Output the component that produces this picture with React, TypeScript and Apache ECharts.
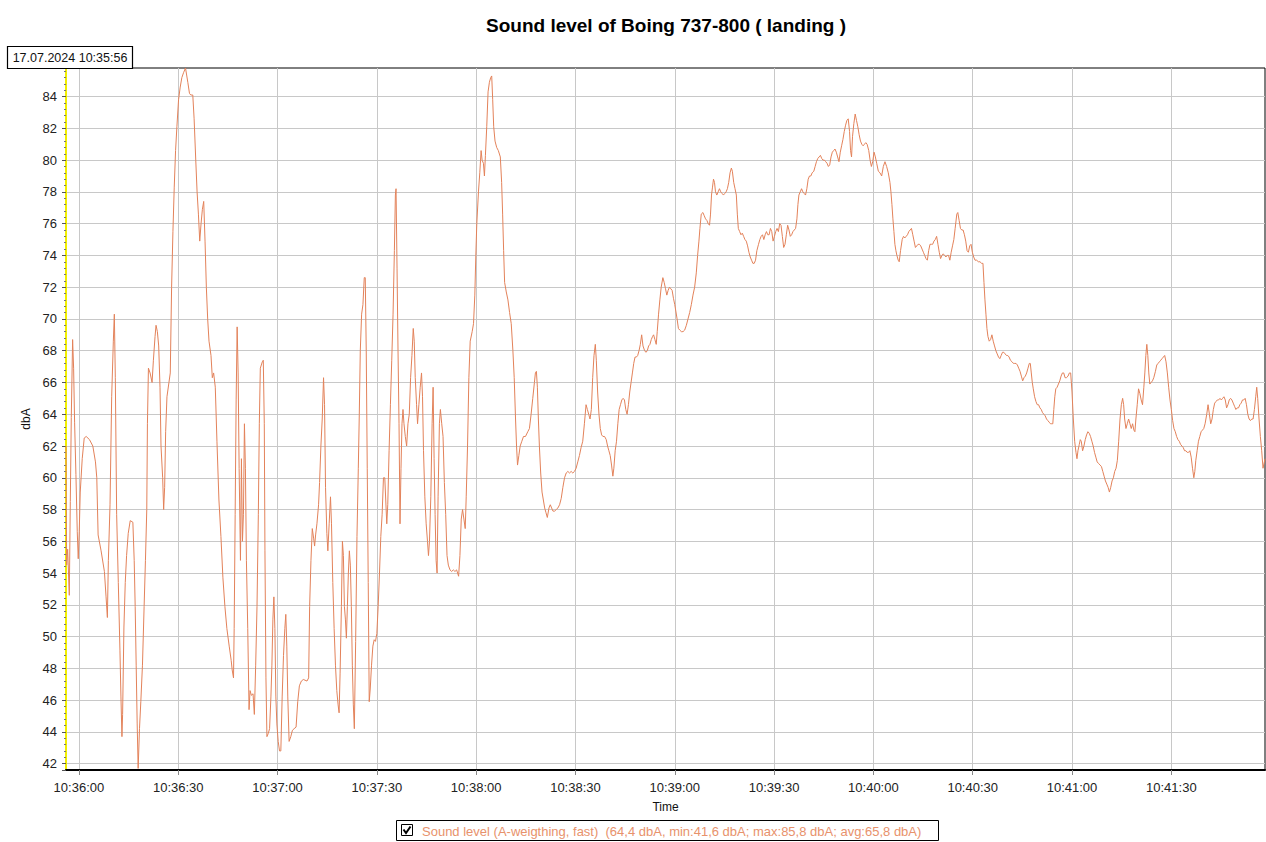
import React, { useEffect, useRef } from "react";
import * as echarts from "echarts";

const chartTitle = "Sound level of Boing 737-800 ( landing )";
const startStamp = "17.07.2024 10:35:56";
const seriesName = "Sound level (A-weigthing, fast)";
const legendStats = "(64,4 dbA, min:41,6 dbA; max:85,8 dbA; avg:65,8 dbA)";
const yAxisName = "dbA";
const xAxisName = "Time";
const baseClockSec = 10 * 3600 + 36 * 60; // 10:36:00 = 0 s
const xMinSec = -3.9;
const xMaxSec = 358.3;
const yMinDb = 41.6;
const yMaxDb = 85.8;
const xStepSec = 30;
const yStepDb = 2;

// seconds relative to 10:36:00
const timeSec = [
  -3.9, -3.7, -3.4, -2.9, -2.6, -2.3, -1.9, -1.6, -1.3, -0.9, -0.5, -0.2, 0.1, 0.4, 1.0, 1.6, 2.2, 3.2, 4.2, 5.0,
  5.4, 5.8, 6.7, 7.7, 8.2, 8.6, 8.9, 9.4, 9.9, 10.4, 10.7, 11.0, 11.4, 11.9, 12.4, 12.7, 13.0, 13.2, 13.6, 14.0,
  14.4, 14.9, 15.5, 16.3, 16.7, 17.0, 17.3, 17.6, 17.9, 18.3, 18.7, 19.2, 19.7, 20.1, 20.5, 20.7, 21.0, 21.5, 22.1, 22.5,
  23.0, 23.3, 23.7, 24.1, 24.5, 24.8, 25.3, 25.6, 25.9, 26.2, 26.6, 27.2, 27.6, 28.0, 28.4, 28.8, 29.2, 29.6, 30.1, 30.6,
  31.1, 31.6, 32.2, 32.9, 33.4, 33.8, 34.4, 34.8, 35.3, 35.7, 36.1, 36.5, 36.9, 37.3, 37.7, 38.1, 38.5, 38.9, 39.3, 39.9,
  40.3, 40.7, 41.2, 41.7, 42.3, 42.9, 43.5, 44.1, 44.7, 45.4, 46.0, 46.3, 46.7, 46.9, 47.2, 47.5, 47.8, 48.1, 48.4, 48.8,
  49.1, 49.4, 49.7, 50.0, 50.3, 50.6, 51.0, 51.4, 51.7, 52.1, 52.6, 53.0, 53.4, 53.8, 54.2, 54.5, 54.8, 55.4, 55.7, 56.0,
  56.2, 56.5, 56.8, 57.2, 57.6, 58.0, 58.3, 58.6, 58.9, 59.2, 59.5, 59.8, 60.2, 60.6, 61.0, 61.4, 61.8, 62.2, 62.5, 62.8,
  63.1, 63.5, 64.0, 64.5, 65.0, 65.6, 66.1, 66.6, 67.2, 67.8, 68.9, 69.4, 69.7, 70.1, 70.5, 70.9, 71.2, 71.5, 71.9, 72.4,
  72.7, 73.1, 73.5, 73.9, 74.2, 74.5, 74.9, 75.2, 75.6, 76.0, 76.3, 76.7, 77.1, 77.5, 77.9, 78.3, 78.6, 78.9, 79.3, 79.6,
  79.9, 80.2, 80.5, 80.8, 81.1, 81.4, 81.7, 82.0, 82.3, 82.6, 82.9, 83.2, 83.6, 84.0, 84.4, 84.7, 85.0, 85.4, 85.8, 86.2,
  86.5, 86.8, 87.1, 87.4, 87.7, 88.0, 88.4, 88.8, 89.2, 89.6, 90.0, 90.4, 90.8, 91.2, 91.6, 92.0, 92.4, 93.0, 93.3, 93.7,
  94.1, 94.5, 94.9, 95.3, 95.6, 95.8, 96.1, 96.4, 96.7, 97.0, 97.3, 97.6, 97.9, 98.2, 98.6, 99.0, 99.4, 99.8, 100.2, 100.6,
  101.0, 101.3, 101.6, 102.0, 102.3, 102.7, 103.1, 103.5, 103.8, 104.1, 104.5, 104.9, 105.3, 105.6, 105.9, 106.3, 106.7, 107.0, 107.3, 107.6,
  107.9, 108.2, 108.5, 108.9, 109.2, 109.6, 110.0, 110.4, 110.8, 111.2, 111.6, 112.1, 112.6, 113.1, 113.6, 114.1, 114.7, 115.1, 115.5, 115.9,
  116.3, 116.7, 117.0, 117.4, 117.8, 118.2, 118.8, 119.2, 119.6, 119.9, 120.2, 120.7, 121.1, 121.5, 121.8, 122.2, 122.5, 122.8, 123.2, 123.6,
  124.0, 124.4, 124.7, 125.0, 125.3, 125.7, 126.2, 126.7, 127.3, 127.7, 128.0, 128.3, 128.6, 129.1, 129.6, 130.1, 130.6, 131.1, 131.5, 131.9,
  132.2, 132.5, 132.9, 133.3, 133.8, 134.3, 134.9, 135.6, 136.1, 136.6, 137.1, 137.6, 137.9, 138.2, 138.5, 138.8, 139.1, 139.5, 139.9, 140.3,
  140.7, 141.1, 141.5, 142.0, 142.4, 142.8, 143.2, 143.7, 144.2, 144.7, 145.2, 145.7, 146.2, 146.7, 147.2, 147.7, 148.2, 148.7, 149.2, 149.7,
  150.2, 150.7, 151.2, 151.7, 152.2, 152.7, 153.2, 153.6, 154.0, 154.4, 154.8, 155.2, 155.6, 156.0, 156.3, 156.7, 157.1, 157.5, 157.9, 158.3,
  158.8, 159.3, 159.7, 160.1, 160.5, 160.9, 161.3, 161.6, 162.0, 162.4, 162.8, 163.2, 163.6, 164.0, 164.4, 164.8, 165.2, 165.6, 166.0, 166.4,
  166.8, 167.2, 167.6, 168.0, 168.4, 168.8, 169.2, 169.6, 170.0, 170.4, 170.9, 171.3, 171.7, 172.1, 172.5, 172.9, 173.3, 173.6, 174.0, 174.4,
  174.7, 175.1, 175.5, 175.9, 176.4, 176.8, 177.2, 177.6, 178.0, 178.4, 178.8, 179.2, 179.6, 180.0, 180.7, 181.1, 181.5, 182.0, 182.5, 183.0,
  183.5, 184.0, 184.5, 185.0, 185.5, 186.0, 186.5, 186.9, 187.3, 187.6, 188.0, 188.5, 188.9, 189.3, 189.7, 190.1, 190.5, 190.8, 191.1, 191.4,
  191.7, 192.0, 192.3, 192.7, 193.1, 193.5, 193.9, 194.3, 194.7, 195.1, 195.5, 195.9, 196.3, 196.7, 197.1, 197.4, 197.8, 198.2, 198.6, 198.9,
  199.2, 199.6, 200.0, 200.4, 200.8, 201.2, 201.6, 202.0, 202.4, 202.8, 203.2, 203.6, 204.0, 204.4, 204.8, 205.3, 205.7, 206.1, 206.5, 206.9,
  207.3, 207.7, 208.1, 208.5, 208.9, 209.3, 209.7, 210.1, 210.5, 210.9, 211.3, 211.7, 212.1, 212.5, 212.9, 213.3, 213.7, 214.1, 214.5, 214.9,
  215.3, 215.7, 216.1, 216.5, 216.9, 217.2, 217.5, 217.9, 218.3, 218.7, 219.1, 219.5, 219.9, 220.3, 220.7, 221.1, 221.5, 222.0, 222.4, 222.8,
  223.2, 223.6, 224.0, 224.4, 224.8, 225.2, 225.6, 226.0, 226.4, 226.8, 227.2, 227.6, 228.0, 228.4, 228.8, 229.2, 229.6, 230.0, 230.4, 230.8,
  231.2, 231.6, 232.0, 232.4, 232.8, 233.1, 233.4, 233.7, 234.1, 234.5, 234.9, 235.3, 235.7, 236.1, 236.5, 236.9, 237.3, 237.7, 238.1, 238.6,
  239.0, 239.4, 239.8, 240.2, 240.6, 241.0, 241.5, 242.0, 242.5, 243.0, 243.5, 244.0, 244.5, 245.0, 245.3, 245.6, 245.9, 246.2, 246.5, 246.8,
  247.1, 247.5, 247.8, 248.2, 248.7, 249.1, 249.5, 249.9, 250.3, 250.7, 251.1, 251.5, 251.9, 252.3, 252.7, 253.1, 253.5, 253.9, 254.3, 254.7,
  255.1, 255.5, 255.9, 256.3, 256.7, 257.1, 257.5, 257.9, 258.3, 258.7, 259.1, 259.5, 259.9, 260.3, 260.7, 261.1, 261.5, 261.9, 262.3, 262.7,
  263.1, 263.5, 263.9, 264.3, 264.7, 265.2, 265.5, 265.9, 266.3, 266.7, 267.1, 267.5, 267.9, 268.3, 268.7, 269.1, 269.5, 269.9, 270.3, 270.7,
  271.2, 271.7, 272.2, 272.7, 273.1, 273.4, 273.7, 274.0, 274.3, 274.6, 275.0, 275.4, 275.8, 276.2, 276.6, 277.0, 277.4, 277.8, 278.2, 278.6,
  279.0, 279.4, 279.8, 280.2, 280.6, 281.0, 281.4, 281.9, 282.3, 282.7, 283.1, 283.5, 283.9, 284.3, 284.7, 285.1, 285.5, 285.9, 286.3, 286.7,
  287.1, 287.4, 287.7, 288.0, 288.3, 288.7, 289.1, 289.5, 289.9, 290.3, 290.7, 291.1, 291.5, 291.9, 292.3, 292.7, 293.1, 293.5, 293.9, 294.2,
  294.5, 294.8, 295.1, 295.5, 295.9, 296.3, 296.7, 297.1, 297.5, 297.9, 298.3, 298.8, 299.2, 299.6, 300.0, 300.4, 300.8, 301.2, 301.5, 301.8,
  302.2, 302.5, 302.8, 303.2, 303.6, 304.0, 304.4, 304.8, 305.2, 305.6, 306.0, 306.4, 306.8, 307.2, 307.6, 308.0, 308.5, 308.9, 309.3, 309.7,
  310.1, 310.5, 310.9, 311.3, 311.7, 312.1, 312.5, 312.9, 313.3, 313.7, 314.1, 314.5, 314.9, 315.3, 315.6, 315.9, 316.3, 316.7, 317.1, 317.5,
  317.9, 318.3, 318.7, 319.0, 319.3, 319.7, 320.1, 320.5, 320.9, 321.3, 321.7, 322.0, 322.3, 322.6, 322.9, 323.2, 323.5, 323.9, 324.3, 324.7,
  325.2, 325.6, 326.0, 326.4, 326.8, 327.2, 327.6, 328.0, 328.4, 328.8, 329.2, 329.6, 330.0, 330.4, 330.8, 331.2, 331.6, 332.0, 332.4, 332.8,
  333.2, 333.6, 334.0, 334.4, 334.8, 335.2, 335.6, 336.0, 336.4, 336.8, 337.1, 337.4, 337.8, 338.2, 338.6, 339.0, 339.4, 339.8, 340.2, 340.7,
  341.1, 341.5, 341.9, 342.3, 342.7, 343.1, 343.5, 343.9, 344.3, 344.7, 345.1, 345.5, 345.9, 346.3, 346.7, 347.1, 347.5, 347.9, 348.3, 348.7,
  349.1, 349.5, 349.9, 350.3, 350.7, 351.1, 351.5, 351.9, 352.3, 352.7, 353.1, 353.5, 353.9, 354.3, 354.7, 355.1, 355.5, 355.8, 356.1, 356.5,
  356.9, 357.3, 357.7, 358.3,
];

// dbA readings, same order as timeSec
const levelDbA = [
  62.0, 54.5, 55.5, 52.6, 58.5, 63.8, 68.7, 66.9, 63.5, 60.2, 56.6, 54.9, 56.6, 59.1, 61.2, 62.5, 62.6, 62.4, 62.0, 61.0,
  60.0, 56.4, 55.4, 54.1, 52.5, 51.2, 54.8, 58.3, 65.1, 68.6, 70.3, 66.3, 57.7, 53.4, 49.1, 46.2, 43.7, 45.1, 50.6, 53.4,
  55.1, 56.5, 57.3, 57.2, 54.8, 51.9, 48.2, 44.5, 41.7, 44.2, 45.9, 48.2, 51.9, 54.8, 58.0, 63.4, 66.9, 66.6, 66.0, 67.4,
  68.9, 69.6, 69.2, 68.3, 65.7, 62.0, 60.0, 58.0, 59.4, 62.9, 65.1, 66.0, 66.6, 72.0, 75.5, 78.3, 80.6, 82.1, 83.8, 84.6,
  85.2, 85.5, 85.8, 84.9, 84.2, 84.1, 84.1, 82.6, 80.0, 78.0, 76.6, 74.9, 76.0, 76.9, 77.4, 74.9, 72.0, 70.0, 68.6, 67.7,
  66.3, 66.6, 65.7, 62.3, 58.6, 56.3, 53.7, 51.9, 50.5, 49.4, 48.5, 47.9, 47.4, 50.5, 57.7, 64.9, 69.5, 66.6, 60.6, 54.8,
  61.2, 56.0, 57.7, 63.4, 60.6, 54.8, 50.5, 45.4, 46.6, 46.3, 46.4, 45.1, 48.2, 51.9, 57.7, 63.4, 66.9, 67.3, 67.4, 63.4,
  55.4, 47.4, 43.7, 43.9, 44.2, 46.2, 48.2, 51.1, 52.5, 50.5, 46.2, 44.5, 43.4, 42.8, 42.8, 46.2, 48.8, 50.5, 51.4, 49.4,
  46.2, 43.4, 43.7, 44.1, 44.2, 44.3, 45.9, 46.9, 47.2, 47.3, 47.2, 47.4, 51.9, 54.8, 56.8, 56.2, 55.7, 56.4, 57.1, 58.3,
  59.7, 62.0, 63.7, 66.3, 64.6, 59.4, 56.5, 55.4, 57.1, 58.8, 57.1, 53.4, 50.5, 48.2, 46.6, 45.7, 45.2, 47.7, 51.9, 56.0,
  55.1, 51.9, 51.1, 49.9, 51.9, 54.0, 55.4, 54.5, 51.9, 48.2, 45.7, 44.2, 49.7, 56.3, 60.6, 64.0, 68.0, 70.3, 70.9, 72.6,
  72.6, 68.0, 60.6, 53.4, 45.9, 46.7, 48.2, 49.4, 49.8, 49.7, 50.2, 51.9, 54.0, 56.3, 57.7, 60.0, 60.0, 57.1, 58.3, 61.7,
  64.6, 67.4, 70.3, 74.3, 77.8, 78.2, 73.2, 68.0, 63.4, 57.1, 60.6, 63.4, 64.3, 63.4, 62.6, 62.0, 63.4, 64.0, 66.3, 67.7,
  69.4, 68.6, 66.3, 64.6, 63.4, 64.6, 65.7, 66.6, 65.1, 61.7, 58.8, 57.1, 56.0, 55.1, 56.0, 58.8, 63.4, 65.7, 61.2, 57.7,
  54.8, 54.0, 58.8, 63.4, 64.3, 63.4, 62.6, 59.7, 57.7, 55.1, 54.5, 54.2, 54.1, 54.2, 54.1, 54.2, 53.8, 55.1, 57.4, 58.0,
  57.4, 56.8, 58.8, 62.0, 66.3, 68.6, 69.2, 69.7, 71.5, 74.0, 76.0, 78.0, 79.2, 80.6, 80.0, 79.8, 79.0, 80.3, 82.1, 84.3,
  84.9, 85.2, 85.3, 83.8, 82.1, 81.2, 80.8, 80.6, 80.2, 78.6, 76.6, 74.3, 72.3, 71.7, 71.2, 70.4, 69.7, 68.0, 66.3, 63.7,
  62.0, 60.8, 61.4, 62.0, 62.3, 62.6, 62.6, 62.9, 63.1, 64.0, 65.0, 66.0, 66.6, 66.7, 65.7, 63.7, 62.0, 60.3, 59.1, 58.6,
  58.1, 57.8, 57.5, 58.1, 58.3, 58.1, 57.9, 57.9, 58.0, 58.1, 58.3, 58.7, 59.4, 60.0, 60.3, 60.4, 60.3, 60.4, 60.3, 60.4,
  60.6, 61.0, 61.4, 61.9, 62.3, 63.4, 64.6, 64.3, 64.0, 63.7, 64.3, 66.3, 67.7, 68.4, 67.4, 65.4, 64.0, 63.1, 62.7, 62.6,
  62.6, 62.4, 62.0, 61.7, 61.4, 60.8, 60.1, 60.6, 61.7, 62.3, 63.4, 64.3, 64.6, 64.9, 65.0, 64.9, 64.3, 64.0, 64.6, 65.4,
  66.0, 66.6, 67.2, 67.6, 67.6, 67.7, 68.0, 68.4, 69.0, 68.3, 68.0, 67.9, 68.0, 68.3, 68.4, 68.7, 68.9, 69.0, 68.7, 68.4,
  69.2, 70.3, 71.2, 72.0, 72.6, 72.3, 71.9, 71.5, 71.8, 72.0, 71.9, 71.8, 71.3, 70.9, 70.0, 69.4, 69.3, 69.2, 69.2, 69.3,
  69.6, 70.0, 70.4, 70.9, 71.5, 72.0, 72.9, 74.0, 74.9, 75.7, 76.6, 76.7, 76.5, 76.3, 76.2, 76.0, 75.9, 76.6, 77.8, 78.3,
  78.8, 78.6, 78.0, 77.8, 78.0, 78.2, 78.0, 77.9, 77.8, 77.9, 78.0, 78.2, 78.6, 79.2, 79.5, 79.3, 78.6, 78.2, 77.8, 76.6,
  75.7, 75.5, 75.3, 75.4, 75.2, 75.0, 74.9, 74.6, 74.2, 73.9, 73.7, 73.5, 73.5, 73.7, 74.3, 74.7, 75.0, 75.2, 75.3, 75.0,
  75.3, 75.5, 75.3, 75.3, 75.7, 75.5, 74.9, 75.2, 75.5, 75.7, 75.5, 76.0, 75.9, 75.2, 74.5, 74.7, 75.3, 75.9, 75.6, 75.2,
  75.3, 75.5, 75.6, 75.7, 76.3, 77.2, 77.8, 78.0, 78.2, 78.0, 77.9, 77.8, 78.2, 78.8, 79.0, 79.0, 79.2, 79.3, 79.6, 79.9,
  80.1, 80.2, 80.3, 80.1, 80.0, 80.0, 79.9, 79.8, 79.6, 79.7, 80.2, 80.5, 80.6, 80.7, 80.5, 80.2, 79.9, 80.5, 80.9, 81.3,
  81.8, 82.2, 82.5, 82.6, 81.8, 80.6, 80.2, 81.5, 82.3, 82.9, 82.5, 82.1, 81.6, 81.2, 81.0, 80.9, 81.0, 81.1, 81.0, 80.6,
  80.0, 79.6, 79.9, 80.5, 80.2, 79.8, 79.3, 79.2, 79.0, 79.6, 79.9, 79.6, 79.2, 78.6, 78.0, 77.2, 76.3, 75.5, 74.7, 74.3,
  74.0, 73.7, 73.6, 74.3, 75.0, 75.2, 75.1, 75.2, 75.3, 75.5, 75.6, 75.7, 75.3, 74.9, 74.5, 74.6, 74.7, 74.7, 74.6, 74.4,
  74.2, 74.0, 73.8, 73.7, 74.3, 74.7, 74.7, 74.7, 74.9, 75.0, 75.2, 74.7, 74.2, 73.8, 74.0, 74.1, 74.0, 73.9, 74.0, 74.0,
  73.7, 74.2, 74.6, 75.0, 75.7, 76.6, 76.7, 76.2, 75.7, 75.6, 75.6, 75.3, 74.9, 74.3, 74.2, 74.6, 74.7, 74.2, 73.9, 73.7,
  73.7, 73.6, 73.6, 73.5, 73.5, 72.3, 71.2, 70.3, 69.4, 68.9, 68.6, 68.7, 69.0, 68.6, 68.3, 68.0, 67.8, 67.6, 67.5, 67.7,
  67.9, 67.9, 67.8, 67.7, 67.7, 67.6, 67.4, 67.3, 67.2, 67.2, 67.2, 67.1, 66.9, 66.7, 66.4, 66.1, 66.3, 66.4, 66.6, 66.9,
  67.2, 67.2, 66.6, 66.0, 65.6, 65.1, 64.8, 64.6, 64.6, 64.4, 64.3, 64.1, 64.0, 63.9, 63.7, 63.6, 63.5, 63.4, 63.4, 63.4,
  64.3, 65.1, 65.6, 65.7, 65.9, 66.1, 66.4, 66.6, 66.6, 66.3, 66.3, 66.4, 66.6, 66.6, 65.4, 63.7, 62.3, 61.6, 61.2, 61.7,
  62.1, 62.4, 62.3, 61.7, 62.0, 62.4, 62.7, 62.9, 62.8, 62.6, 62.3, 62.0, 61.6, 61.3, 61.0, 60.9, 60.8, 60.7, 60.4, 60.1,
  59.8, 59.6, 59.4, 59.1, 59.4, 59.8, 60.0, 60.4, 60.6, 61.1, 62.3, 63.7, 64.6, 65.0, 64.6, 63.7, 63.1, 63.4, 63.7, 63.4,
  63.1, 63.4, 63.0, 62.9, 63.7, 64.6, 65.6, 65.3, 64.9, 64.6, 65.7, 66.6, 67.7, 68.4, 67.7, 66.6, 65.9, 66.0, 66.1, 66.3,
  66.7, 67.1, 67.2, 67.3, 67.4, 67.5, 67.6, 67.7, 67.3, 66.6, 65.7, 64.9, 64.3, 63.6, 63.1, 62.9, 62.6, 62.4, 62.3, 62.1,
  62.0, 61.9, 61.7, 61.7, 61.6, 61.6, 61.7, 61.3, 60.6, 60.0, 60.4, 61.1, 61.7, 62.3, 62.6, 62.9, 63.0, 63.1, 63.4, 64.0,
  64.6, 64.0, 63.4, 63.7, 64.3, 64.7, 64.8, 64.9, 64.9, 65.0, 64.9, 65.0, 65.1, 64.9, 64.4, 64.6, 64.9, 65.0, 64.9, 64.7,
  64.5, 64.3, 64.4, 64.4, 64.6, 64.7, 64.9, 64.9, 65.0, 64.6, 64.0, 63.7, 63.6, 63.7, 63.7, 64.3, 65.1, 65.7, 65.0, 63.7,
  62.6, 61.7, 60.6, 61.2,
];

const lineColor = "#E3825A";
const legendTextColor = "#E8926C";
const fontFamily = '"Liberation Sans", Arial, sans-serif';

function clockLabel(sec: number): string {
  const total = Math.round(baseClockSec + sec);
  const h = Math.floor(total / 3600);
  const m = Math.floor((total % 3600) / 60);
  const s = total % 60;
  const p = (n: number) => String(n).padStart(2, "0");
  return `${p(h)}:${p(m)}:${p(s)}`;
}

export default function App() {
  const ref = useRef<HTMLDivElement | null>(null);

  useEffect(() => {
    if (!ref.current) return;
    const chart = echarts.init(ref.current, undefined, { renderer: "svg" });
    const data = timeSec.map((t, i) => [t, levelDbA[i]]);

    chart.setOption({
      animation: false,
      backgroundColor: "#ffffff",
      grid: {
        left: 66,
        top: 68,
        right: 1,
        bottom: 72,
        show: true,
        borderColor: "#000000",
        borderWidth: 1,
        backgroundColor: "#ffffff",
      },
      xAxis: {
        type: "value",
        min: xMinSec,
        max: xMaxSec,
        minInterval: xStepSec,
        maxInterval: xStepSec,
        name: xAxisName,
        nameLocation: "middle",
        nameGap: 31,
        nameTextStyle: { fontSize: 12, color: "#111", fontFamily },
        axisLine: { show: true, onZero: false, lineStyle: { color: "#000", width: 2 } },
        axisTick: { show: true, length: 5, lineStyle: { color: "#888" } },
        axisLabel: {
          margin: 11,
          fontSize: 13,
          color: "#222",
          fontFamily,
          showMinLabel: false,
          showMaxLabel: false,
          formatter: (v: number) =>
            Math.abs(v / xStepSec - Math.round(v / xStepSec)) < 1e-6 ? clockLabel(v) : "",
        },
        splitLine: {
          show: true,
          showMinLine: false,
          showMaxLine: false,
          lineStyle: { color: "#c8c8c8", width: 1 },
        },
      },
      yAxis: {
        type: "value",
        min: yMinDb,
        max: yMaxDb,
        minInterval: yStepDb,
        maxInterval: yStepDb,
        name: yAxisName,
        nameLocation: "middle",
        nameGap: 27,
        nameRotate: 90,
        nameTextStyle: { fontSize: 12, color: "#111", fontFamily },
        axisLine: { show: true, onZero: false, lineStyle: { color: "#f0ee00", width: 2 } },
        axisTick: { show: true, length: 4, lineStyle: { color: "#555" } },
        minorTick: { show: true, splitNumber: 5, length: 2, lineStyle: { color: "#777" } },
        axisLabel: {
          margin: 9,
          fontSize: 13,
          color: "#222",
          fontFamily,
          showMinLabel: false,
          showMaxLabel: false,
          formatter: (v: number) =>
            Math.abs(v / yStepDb - Math.round(v / yStepDb)) < 1e-6 ? String(Math.round(v)) : "",
        },
        splitLine: {
          show: true,
          showMinLine: false,
          showMaxLine: false,
          lineStyle: { color: "#c8c8c8", width: 1 },
        },
      },
      series: [
        {
          name: seriesName,
          type: "line",
          data,
          showSymbol: false,
          symbol: "none",
          clip: true,
          silent: true,
          lineStyle: { color: lineColor, width: 1 },
        },
      ],
      graphic: [
        {
          type: "text",
          x: 666,
          y: 25,
          style: {
            text: chartTitle,
            font: `bold 19px ${fontFamily}`,
            fill: "#000",
            align: "center",
            verticalAlign: "middle",
            textAlign: "center",
            textVerticalAlign: "middle",
          },
        },
        {
          type: "rect",
          z: 100,
          shape: { x: 7.5, y: 46.5, width: 125, height: 22 },
          style: { fill: "#ffffff", stroke: "#000", lineWidth: 1.2 },
        },
        {
          type: "text",
          z: 101,
          x: 70,
          y: 57.5,
          style: {
            text: startStamp,
            font: `12.5px ${fontFamily}`,
            fill: "#111",
            align: "center",
            verticalAlign: "middle",
            textAlign: "center",
            textVerticalAlign: "middle",
          },
        },
        {
          type: "rect",
          shape: { x: 396.5, y: 820.5, width: 542, height: 20 },
          style: { fill: "#ffffff", stroke: "#000", lineWidth: 1 },
        },
        {
          type: "rect",
          shape: { x: 401.5, y: 824.5, width: 11, height: 11 },
          style: { fill: "#ffffff", stroke: "#000", lineWidth: 1 },
        },
        {
          type: "polyline",
          shape: { points: [[403.5, 829.5], [406, 833], [410.5, 826.5]] },
          style: { fill: null, stroke: "#000", lineWidth: 2 },
        },
        {
          type: "text",
          x: 422,
          y: 831,
          style: {
            text: `${seriesName}  ${legendStats}`,
            font: `13px ${fontFamily}`,
            fill: legendTextColor,
            align: "left",
            verticalAlign: "middle",
            textAlign: "left",
            textVerticalAlign: "middle",
          },
        },
      ],
    });

    return () => {
      chart.dispose();
    };
  }, []);

  return (
    <div
      ref={ref}
      style={{ position: "absolute", left: 0, top: 0, width: 1266, height: 842, background: "#fff" }}
    />
  );
}
